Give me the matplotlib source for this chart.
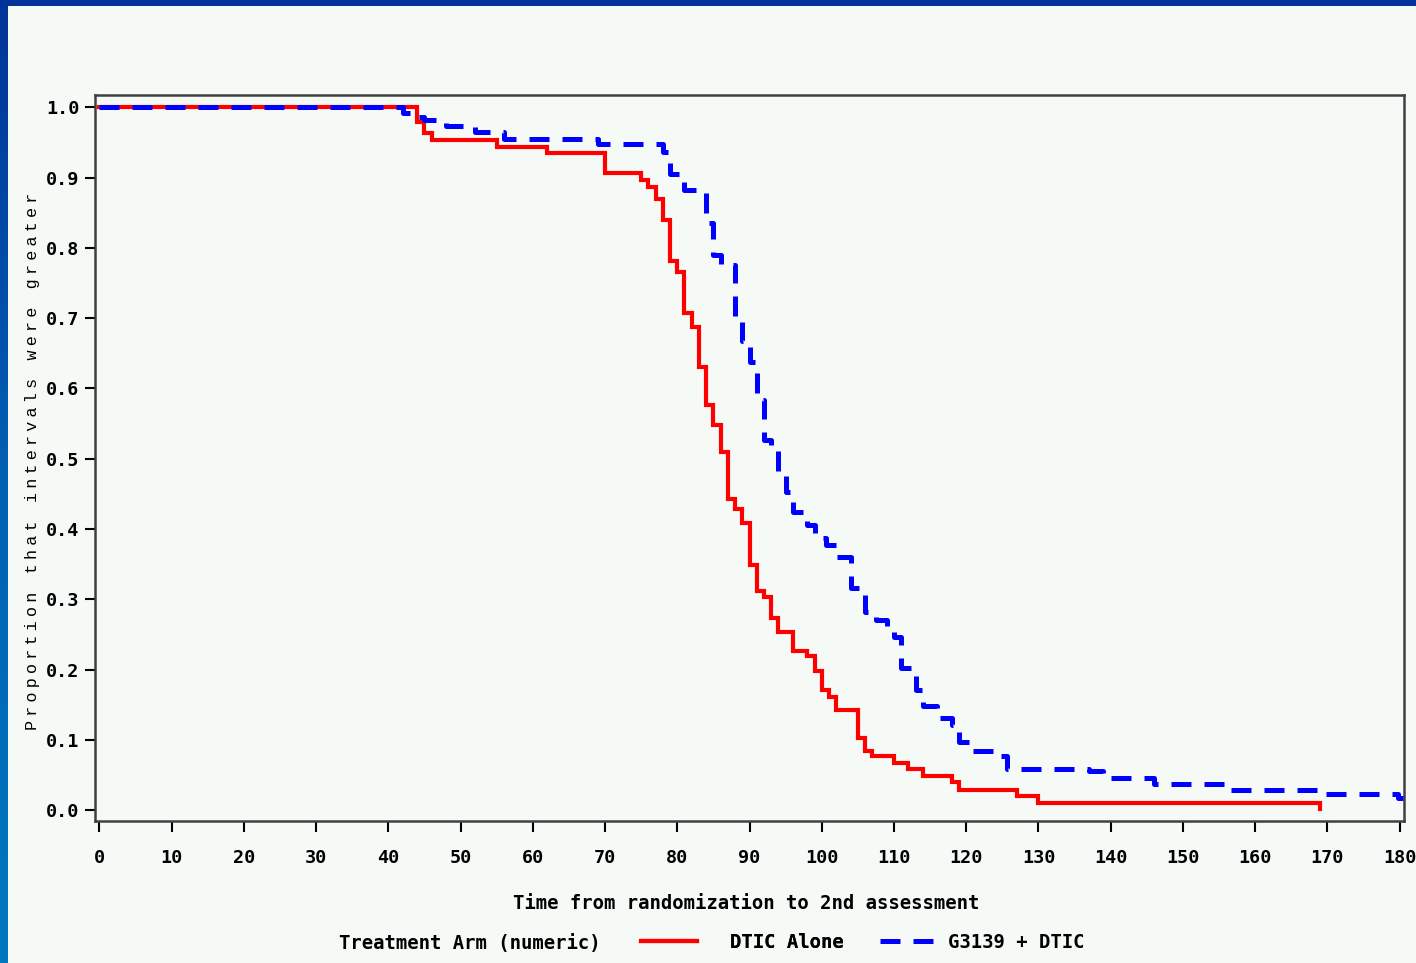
import numpy as np
import matplotlib
matplotlib.use("Agg")
import matplotlib.pyplot as plt
from matplotlib import font_manager, ft2font
from matplotlib.colors import LinearSegmentedColormap

# ---- data ----
dtic_time = [0, 44, 45, 46, 55, 62, 70, 75, 76, 77, 78, 79, 80, 81, 82, 83, 84, 85, 86,
             87, 88, 89, 90, 91, 92, 93, 94, 96, 98, 99, 100, 101, 102, 105, 106, 107,
             110, 112, 114, 118, 119, 127, 130, 169]
dtic_surv = [1.0, 0.979, 0.963, 0.954, 0.944, 0.935, 0.907, 0.897, 0.887, 0.869, 0.839,
             0.781, 0.766, 0.707, 0.688, 0.631, 0.576, 0.548, 0.510, 0.443, 0.428, 0.408,
             0.349, 0.312, 0.303, 0.274, 0.254, 0.227, 0.219, 0.198, 0.171, 0.161, 0.142,
             0.103, 0.084, 0.077, 0.067, 0.058, 0.048, 0.040, 0.029, 0.020, 0.0105, 0.001]

g3139_time = [0, 42, 44, 45, 48, 52, 56, 69, 78, 79, 81, 84, 85, 86, 88, 89, 90, 91, 92,
              93, 94, 95, 96, 98, 99, 100.6, 102, 104, 106, 107.5, 109, 110, 111, 113,
              114, 116, 118, 119, 121, 124, 125.6, 137, 139, 146, 156, 169, 179.8, 180.5]
g3139_surv = [1.0, 0.992, 0.986, 0.982, 0.973, 0.965, 0.955, 0.948, 0.937, 0.905, 0.882,
              0.835, 0.79, 0.775, 0.699, 0.668, 0.637, 0.583, 0.526, 0.511, 0.475, 0.452,
              0.424, 0.405, 0.387, 0.377, 0.360, 0.316, 0.282, 0.271, 0.259, 0.246, 0.202,
              0.171, 0.148, 0.131, 0.121, 0.097, 0.084, 0.077, 0.059, 0.056, 0.046, 0.037,
              0.028, 0.023, 0.017, 0.017]

xticks = list(range(0, 181, 10))
yticks = [0.0, 0.1, 0.2, 0.3, 0.4, 0.5, 0.6, 0.7, 0.8, 0.9, 1.0]
ylabel = "Proportion that intervals were greater"
xlabel = "Time from randomization to 2nd assessment"
legend_title = "Treatment Arm (numeric)"
series_names = ["DTIC Alone", "G3139 + DTIC"]

BG = "#f6faf7"
MONO = "DejaVu Sans Mono"

W, H = 1416, 963
fig = plt.figure(figsize=(W / 100, H / 100), dpi=100, facecolor=BG)

# blue frame: top band and left gradient band
top = fig.add_axes([0, 1 - 6 / H, 1, 6 / H])
top.set_axis_off()
top.add_patch(plt.Rectangle((0, 0), 1, 1, transform=top.transAxes, color="#003399"))
left = fig.add_axes([0, 0, 7 / W, 1])
left.set_axis_off()
cmap = LinearSegmentedColormap.from_list("b", ["#003399", "#0060b4", "#0078be"])
left.imshow(np.linspace(0, 1, 256).reshape(-1, 1), aspect="auto", cmap=cmap,
            extent=[0, 1, 0, 1], origin="upper")

ax = fig.add_axes([95 / W, 1 - 821 / H, (1404 - 95) / W, (821 - 95) / H])
ax.set_facecolor(BG)

ax.step(dtic_time, dtic_surv, where="post", color="#ff0000", lw=3.0,
        solid_joinstyle="miter", label=series_names[0], zorder=3)
ax.step(g3139_time, g3139_surv, where="post", color="#0000ff", lw=3.6,
        linestyle=(0, (4.0, 2.6)), dash_capstyle="butt", label=series_names[1], zorder=4)

ax.set_xlim(-0.6, 180.6)
ax.set_ylim(-0.0155, 1.0175)
ax.set_xticks(xticks)
ax.set_yticks(yticks)
ax.set_xticklabels([str(t) for t in xticks])
ax.set_yticklabels([f"{v:.1f}" for v in yticks])
for lab in ax.get_xticklabels() + ax.get_yticklabels():
    lab.set_fontfamily(MONO)
    lab.set_fontweight("bold")
    lab.set_fontsize(13.3)
ax.tick_params(axis="x", direction="out", length=8, width=1.5, pad=12.5, colors="black")
ax.tick_params(axis="y", direction="out", length=7, width=1.5, pad=4, colors="black")
for s in ax.spines.values():
    s.set_color("#404040")
    s.set_linewidth(1.8)

fig.text(513 / W, 1 - 903 / H, xlabel, family=MONO, weight="bold", fontsize=13.6,
         ha="left", va="center")


# ---- letter-spaced y label: monospace letters, narrow gap glyph from a fallback font ----
def charmap_of(family):
    try:
        path = font_manager.findfont(font_manager.FontProperties(family=family),
                                     fallback_to_default=False)
        return set(ft2font.FT2Font(path).get_charmap().keys())
    except Exception:
        return None


fams = None
sep = " "
prop_cm = charmap_of("DejaVu Sans") or set()
for mono in ["Liberation Mono", "DejaVu Sans Mono"]:
    cm = charmap_of(mono)
    if cm is None:
        continue
    for cand in ["\u2005", "\u2004", "\u2009", "\u2006"]:
        if ord(cand) not in cm and ord(cand) in prop_cm:
            fams = [mono, "DejaVu Sans"]
            sep = cand
            break
    if fams:
        break
if fams is None:
    fams = [MONO]
    sep = " "

ytxt = sep.join(list(ylabel))
ylab = fig.text(33 / W, 1 - 461 / H, ytxt, family=fams, fontsize=12,
                rotation=90, ha="center", va="center")
# fit the label length to the reference (about 533 px)
renderer = fig.canvas.get_renderer()
for _ in range(4):
    ext = ylab.get_window_extent(renderer)
    ylab.set_fontsize(ylab.get_fontsize() * 533.0 / ext.height)
if ylab.get_fontsize() > 12.5:
    ylab.set_fontsize(12.5)

fig.text(339 / W, 1 - 943 / H, legend_title, family=MONO, weight="bold", fontsize=13.6,
         ha="left", va="center")
handles, labels = ax.get_legend_handles_labels()
legprop = {"family": MONO, "weight": "bold", "size": 13.6}
leg1 = fig.legend(handles[:1], labels[:1], loc="center left",
                  bbox_to_anchor=(641 / W, 1 - 942 / H), frameon=False, borderpad=0,
                  borderaxespad=0, handlelength=2.95, handletextpad=1.75, prop=legprop)
fig.add_artist(leg1)
leg2 = fig.legend(handles[1:], labels[1:], loc="center left",
                  bbox_to_anchor=(880 / W, 1 - 942 / H), frameon=False, borderpad=0,
                  borderaxespad=0, handlelength=2.95, handletextpad=0.65, prop=legprop)

fig.savefig("out.png", dpi=100, facecolor=BG)
